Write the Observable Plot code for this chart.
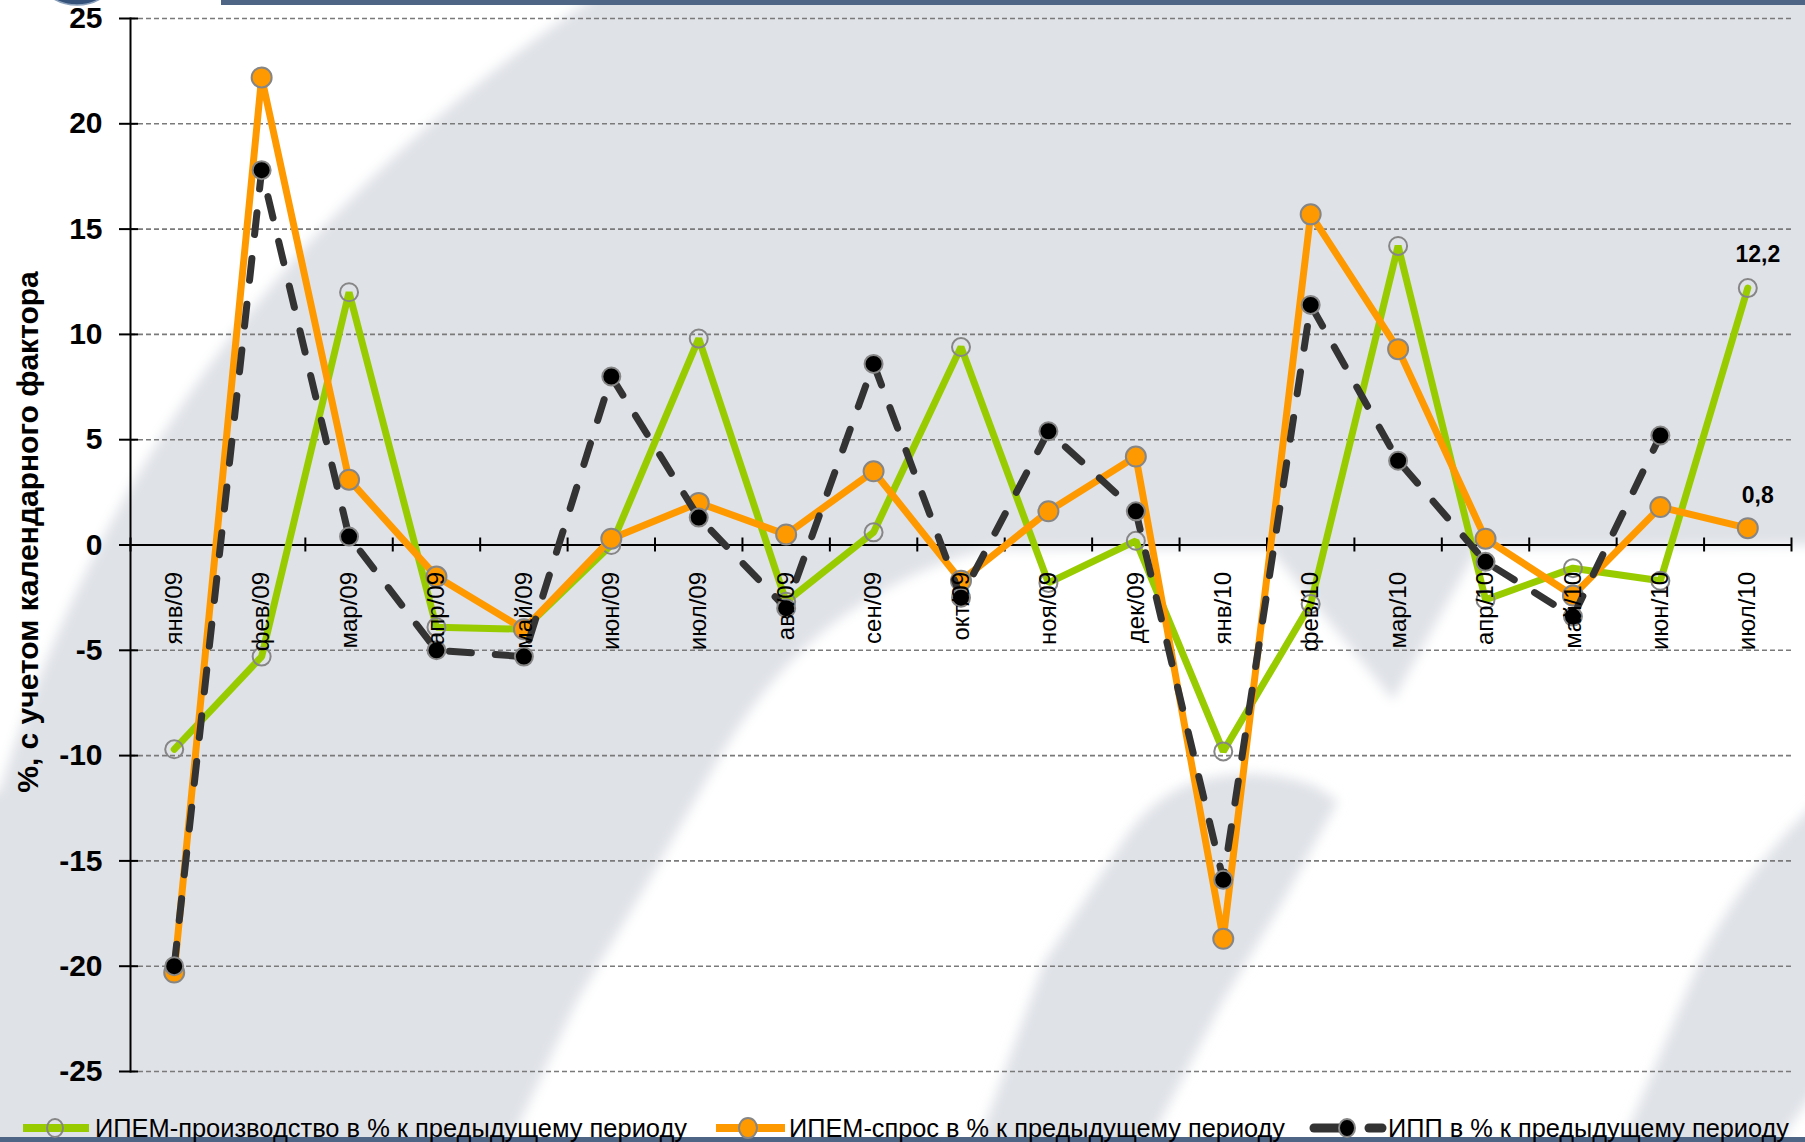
<!DOCTYPE html>
<html><head><meta charset="utf-8">
<script src="https://cdn.jsdelivr.net/npm/d3@7"></script>
<script src="https://cdn.jsdelivr.net/npm/@observablehq/plot@0.6"></script>
<style>
html,body{margin:0;padding:0;background:#fff;}
#wrap{position:relative;width:1805px;height:1142px;overflow:hidden;font-family:"Liberation Sans",Arial,sans-serif;}
#bg,#chart,#legend{position:absolute;left:0;}
#bg{top:0;}
#chart{top:0;}
#legend{top:1100px;}
</style></head>
<body>
<div id="wrap">
<svg id="bg" width="1805" height="1142"></svg>
<div id="chart"></div>
<svg id="legend" width="1805" height="42"></svg>
</div>
<script>
// ---- data ----
const months = ["янв/09","фев/09","мар/09","апр/09","май/09","июн/09","июл/09","авг/09","сен/09","окт/09","ноя/09","дек/09","янв/10","фев/10","мар/10","апр/10","май/10","июн/10","июл/10"];
const production = [-9.7, -5.3, 12.0, -3.9, -4.0, 0.0, 9.8, -2.7, 0.6, 9.4, -1.8, 0.2, -9.8, -2.8, 14.2, -2.6, -1.1, -1.7, 12.2];
const demand = [-20.3, 22.2, 3.1, -1.5, -4.0, 0.3, 2.0, 0.5, 3.5, -1.7, 1.6, 4.2, -18.7, 15.7, 9.3, 0.3, -2.4, 1.8, 0.8];
const ipp = [-20.0, 17.8, 0.4, -5.0, -5.3, 8.0, 1.3, -3.0, 8.6, -2.5, 5.4, 1.6, -15.9, 11.4, 4.0, -0.8, -3.4, 5.2];
const yTicks = [-25, -20, -15, -10, -5, 0, 5, 10, 15, 20, 25];
const seriesNames = ["ИПЕМ-производство в % к предыдущему периоду", "ИПЕМ-спрос в % к предыдущему периоду", "ИПП в % к предыдущему периоду"];
const yTitle = "%, с учетом календарного фактора";

const FONT = "'Liberation Sans', Arial, sans-serif";
const GREEN = "#99cc00", ORANGE = "#ff9900", DARK = "#333333", MARK = "#868686";

// ---- background decoration (slide watermark) ----
(function drawBg(){
  const bg = d3.select("#bg");
  const defs = bg.append("defs");
  defs.append("filter").attr("id","soft").append("feGaussianBlur").attr("stdDeviation", 6);
  bg.append("rect").attr("width",1805).attr("height",1142).attr("fill","#dfe2e7");
  bg.append("path").attr("fill","#ffffff").attr("filter","url(#soft)")
    .attr("d","M-20,-20 L600,-20 L590,0 Q150,300 0,790 L-20,800 Z");
  bg.append("path").attr("fill","#ffffff").attr("filter","url(#soft)")
    .attr("d","M502,1160 L577,1001 L646,886 L721,755 Q780,655 860,605 Q920,565 990,549 L1269,548 L1393,700 L1478,548 L1830,545 L1830,1160 Z");
  bg.append("path").attr("fill","#dfe2e7").attr("filter","url(#soft)")
    .attr("d","M972,1160 L1044,962 L1119,847 Q1150,795 1200,780 Q1260,765 1315,786 L1338,801 L1281,905 L1223,1001 L1140,1160 Z");
  bg.append("path").attr("fill","#dfe2e7").attr("filter","url(#soft)")
    .attr("d","M1615,1160 L1700,960 Q1750,860 1830,790 L1830,1070 L1766,1160 Z");
  bg.append("rect").attr("x",221).attr("y",0).attr("width",1584).attr("height",5).attr("fill","#4e6585");
  bg.append("ellipse").attr("cx",77).attr("cy",-28).attr("rx",40).attr("ry",33).attr("fill","#34527a").attr("stroke","#8aa0bb").attr("stroke-width",1.5);
  bg.append("rect").attr("x",0).attr("y",1137).attr("width",1805).attr("height",5).attr("fill","#4e6585");
})();

// ---- chart ----
const bounds = d3.range(months.length + 1).map(i => i - 0.5);
const idx = (d, i) => i;
const fmt = v => v.toFixed(1).replace(".", ",");
const last = months.length - 1;

const chart = Plot.plot({
  width: 1805, height: 1100,
  marginLeft: 130, marginRight: 14, marginTop: 18, marginBottom: 29,
  style: {background: "transparent", fontFamily: FONT, color: "#000", overflow: "visible"},
  x: {type: "linear", domain: [-0.5, months.length - 0.5], axis: null},
  y: {domain: [-25, 25], axis: null},
  marks: [
    Plot.gridY(yTicks.filter(d => d !== 0), {stroke: "#7a7a7a", strokeOpacity: 1, strokeWidth: 1.6, strokeDasharray: "5,3"}),
    Plot.ruleY(yTicks, {x1: -0.5, x2: -0.5, insetLeft: -11, insetRight: -8, stroke: "#000", strokeWidth: 2}),
    Plot.axisY({ticks: yTicks, tickSize: 0, tickPadding: 28, tickFormat: d => String(d), fontSize: 30, fontWeight: "bold", label: null}),
    Plot.ruleY([0], {stroke: "#000", strokeWidth: 2}),
    Plot.frame({anchor: "left", stroke: "#000", strokeWidth: 2}),
    Plot.ruleX(bounds, {y1: 0, y2: 0, insetTop: -7, insetBottom: -7, stroke: "#000", strokeWidth: 2}),
    Plot.line(production, {x: idx, y: d => d, stroke: GREEN, strokeWidth: 7, strokeLinejoin: "miter"}),
    Plot.dot(production, {x: idx, y: d => d, r: 9, fill: "none", stroke: MARK, strokeWidth: 2}),
    Plot.line(demand, {x: idx, y: d => d, stroke: ORANGE, strokeWidth: 7, strokeLinejoin: "miter"}),
    Plot.dot(demand, {x: idx, y: d => d, r: 10, fill: ORANGE, stroke: MARK, strokeWidth: 2}),
    Plot.line(ipp, {x: idx, y: d => d, stroke: DARK, strokeWidth: 7, strokeDasharray: "22,24", strokeLinecap: "round"}),
    Plot.dot(ipp, {x: idx, y: d => d, r: 9, fill: "#000", stroke: MARK, strokeWidth: 2}),
    Plot.text(months, {x: idx, y: 0, text: d => d, rotate: -90, textAnchor: "end", dy: 27, fontSize: 24, fill: "#000"}),
    Plot.text([production[last], demand[last]], {x: () => last, y: d => d, text: fmt, dx: 10, dy: -33, fontSize: 23, fontWeight: "bold", fill: "#000"})
  ]
});
document.getElementById("chart").appendChild(chart);

d3.select(chart).append("text")
  .attr("transform", "translate(27,532) rotate(-90)")
  .attr("text-anchor", "middle").attr("dominant-baseline", "central")
  .attr("font-family", FONT).attr("font-size", 30).attr("font-weight", "bold").attr("fill", "#000")
  .text(yTitle);

// ---- legend ----
(function drawLegend(){
  const lg = d3.select("#legend");
  const cy = 28;
  const items = [
    {x0: 23, x1: 89, cx: 55, tx: 95, tw: 592, color: GREEN, fill: "none", r: 9},
    {x0: 716, x1: 785, cx: 748, tx: 789, tw: 496, color: ORANGE, fill: ORANGE, r: 10},
    {x0: 1314, x1: 1382, cx: 1347, tx: 1388, tw: 401, color: DARK, fill: "#000", r: 9, dashed: true}
  ];
  items.forEach((it, k) => {
    if (it.dashed) {
      lg.append("line").attr("x1", it.x0).attr("x2", it.cx - 8).attr("y1", cy).attr("y2", cy)
        .attr("stroke", it.color).attr("stroke-width", 9).attr("stroke-linecap", "round");
      lg.append("line").attr("x1", it.cx + 22).attr("x2", it.x1).attr("y1", cy).attr("y2", cy)
        .attr("stroke", it.color).attr("stroke-width", 9).attr("stroke-linecap", "round");
    } else {
      lg.append("line").attr("x1", it.x0).attr("x2", it.x1).attr("y1", cy).attr("y2", cy)
        .attr("stroke", it.color).attr("stroke-width", 8);
    }
    lg.append("ellipse").attr("cx", it.cx).attr("cy", cy).attr("rx", it.r - 1).attr("ry", it.r)
      .attr("fill", it.fill).attr("stroke", MARK).attr("stroke-width", 2);
    lg.append("text").attr("x", it.tx).attr("y", cy + 9)
      .attr("font-family", FONT).attr("font-size", 25).attr("fill", "#000")
      .attr("textLength", it.tw).attr("lengthAdjust", "spacingAndGlyphs")
      .text(seriesNames[k]);
  });
})();
</script>
</body></html>
